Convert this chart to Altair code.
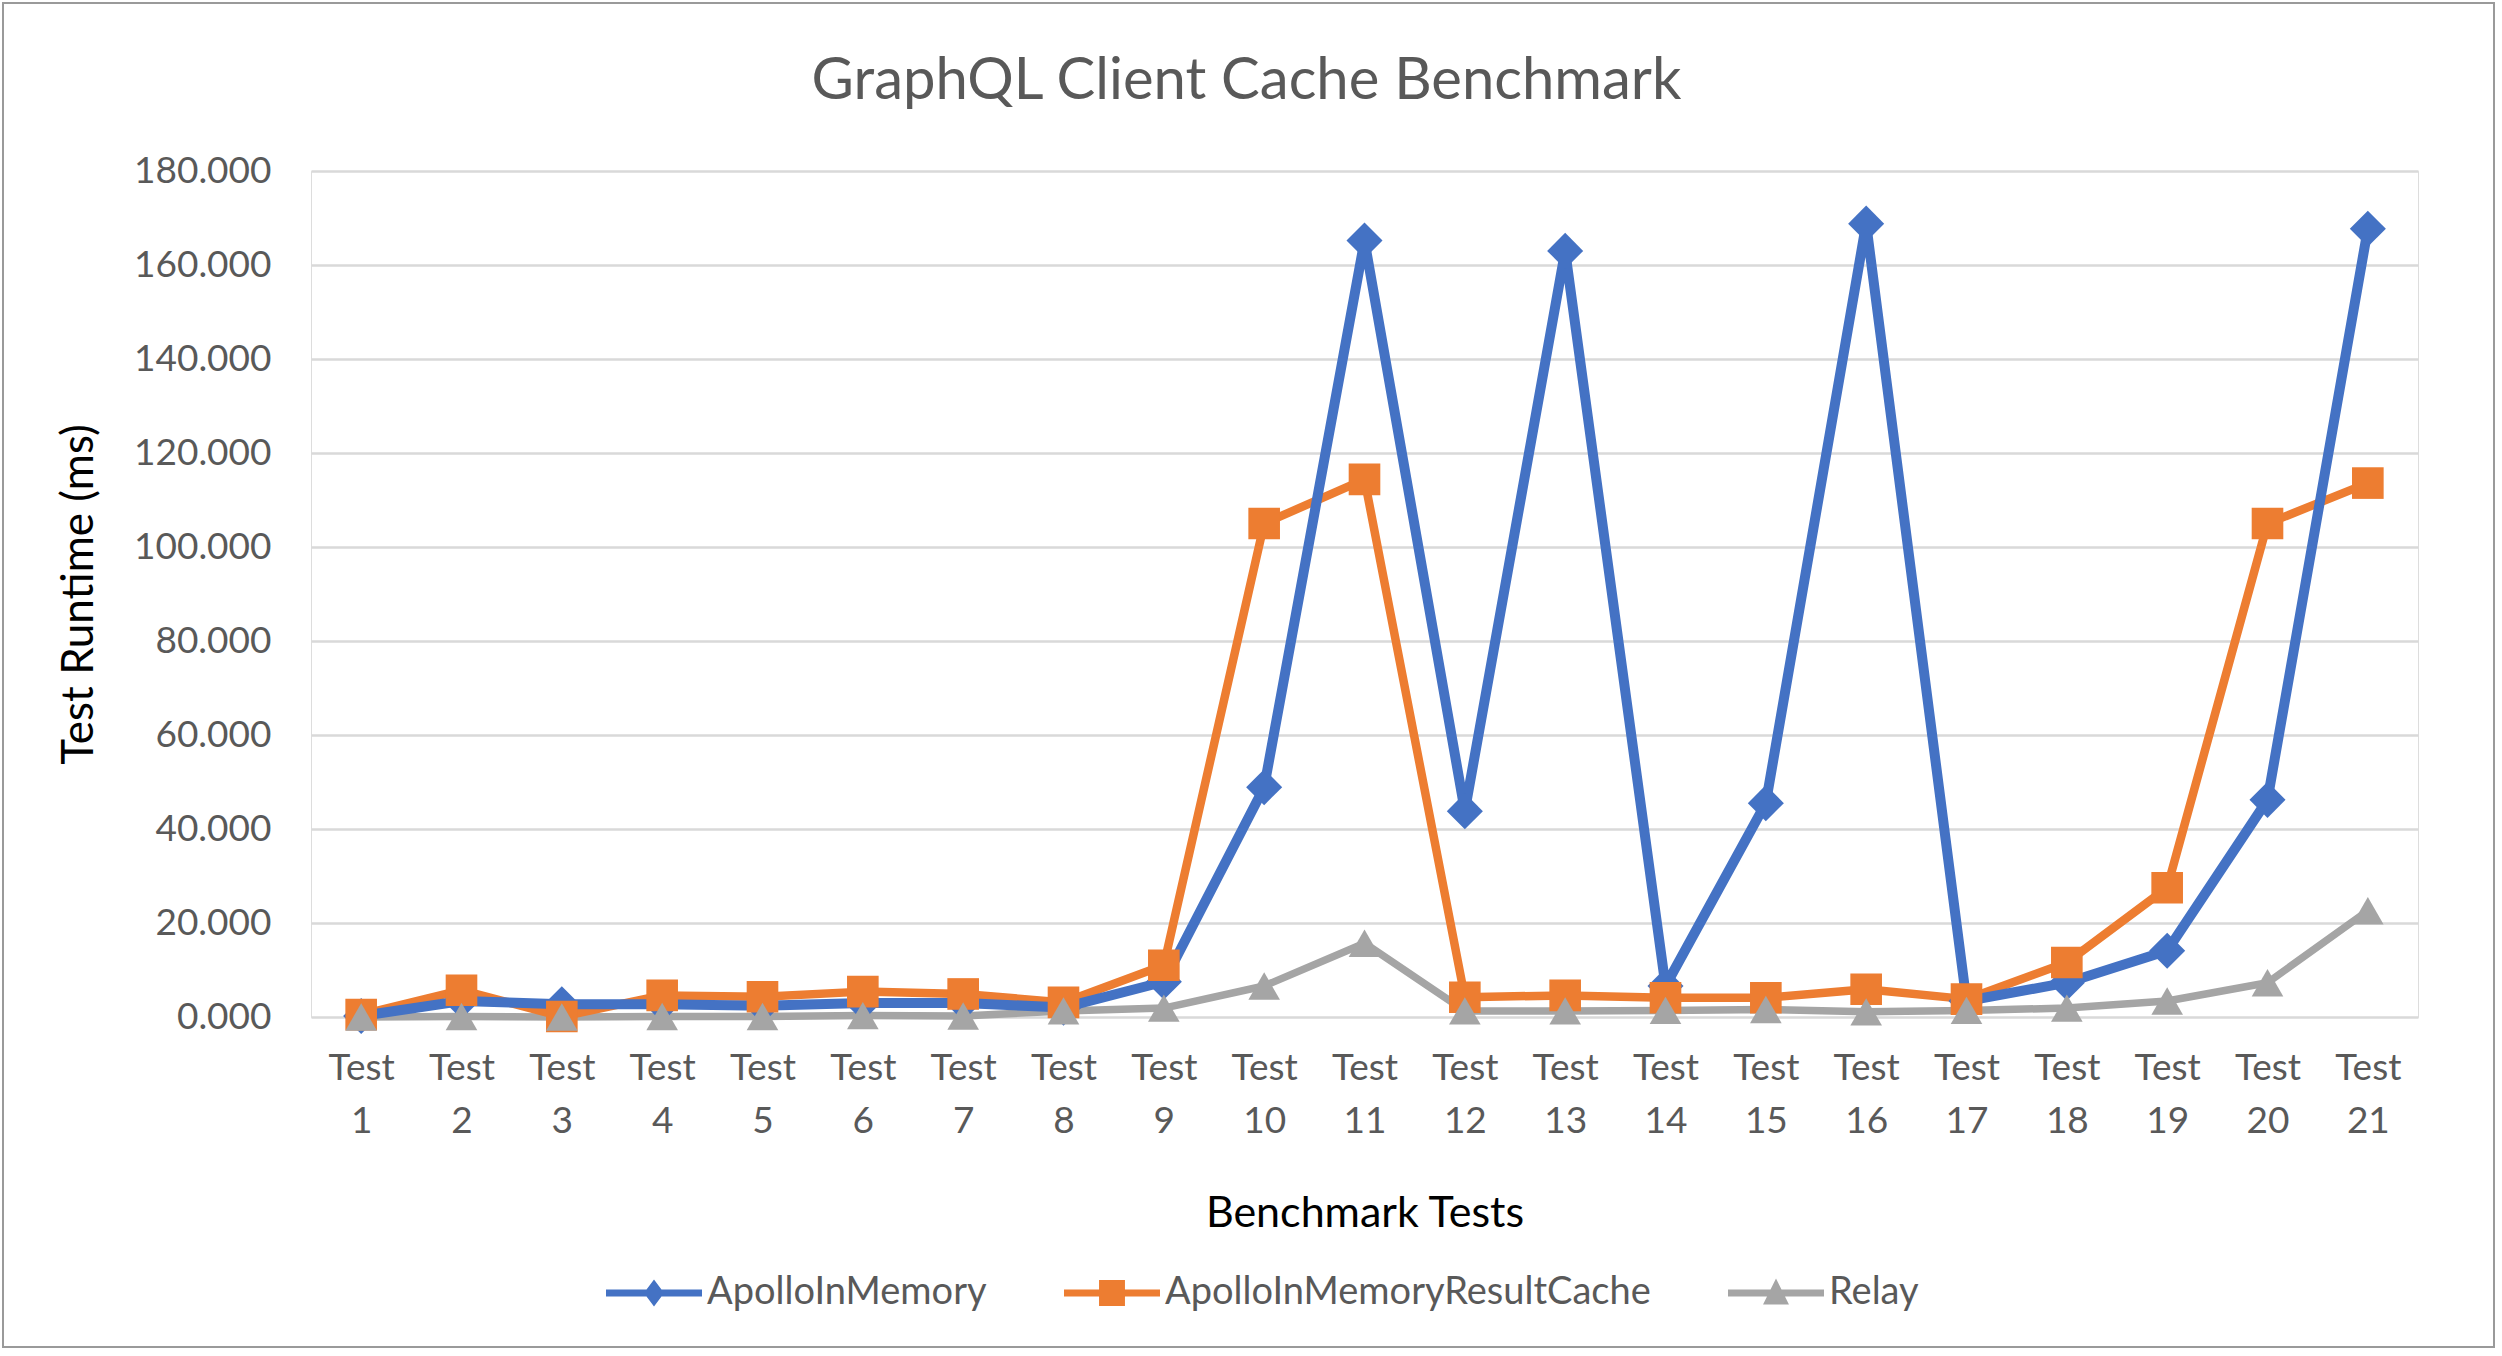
import altair as alt
import pandas as pd

tests = [f"Test {i}" for i in range(1, 22)]
series = ["ApolloInMemory", "ApolloInMemoryResultCache", "Relay"]
colors = ["#4472C4", "#ED7D31", "#A5A5A5"]

apollo_in_memory = [0.2, 3.4, 2.7, 2.7, 2.4, 3.0, 3.0, 2.0, 7.5, 48.9, 165.2,
                    43.8, 163.0, 6.6, 45.5, 168.8, 3.4, 7.3, 14.1, 46.2, 167.7]
apollo_result_cache = [0.5, 5.7, 0.1, 4.6, 4.3, 5.4, 4.9, 3.1, 11.0, 105.0, 114.4,
                       4.2, 4.6, 4.1, 4.1, 5.9, 3.8, 11.6, 27.5, 105.0, 113.6]
relay = [0.0, 0.1, 0.0, 0.1, 0.1, 0.3, 0.2, 1.3, 1.9, 6.6, 15.7,
         1.3, 1.3, 1.4, 1.6, 1.1, 1.4, 1.9, 3.4, 7.3, 22.6]

y_ticks = list(range(0, 181, 20))

rows = []
for name, vals in zip(series, [apollo_in_memory, apollo_result_cache, relay]):
    for t, v in zip(tests, vals):
        rows.append({"test": t, "series": name, "value": v})
df = pd.DataFrame(rows)

FONT = "Lato"
W, H = 2107, 846

color_scale = alt.Scale(domain=series, range=colors)
x_enc = alt.X("test:N", sort=tests,
              scale=alt.Scale(type="point", padding=0.5),
              axis=alt.Axis(labelExpr="split(datum.value, ' ')", labelAngle=0,
                            labelFont=FONT, labelFontSize=37, labelColor="#595959",
                            labelLineHeight=53, labelPadding=33, ticks=False, tickSize=0,
                            domain=False, grid=False,
                            title="Benchmark Tests", titleFont=FONT, titleFontSize=43,
                            titleFontWeight="normal", titleColor="#000000",
                            titleBaseline="middle", titleY=196))
y_enc = alt.Y("value:Q", scale=alt.Scale(domain=[0, 180], nice=False, zero=True),
              axis=alt.Axis(values=y_ticks, format=".3f", labelFont=FONT,
                            labelFontSize=37, labelColor="#595959", labelPadding=40,
                            domain=False, ticks=False, tickSize=0, grid=True,
                            gridColor="#D9D9D9", gridWidth=2.5,
                            title="Test Runtime (ms)", titleFont=FONT, titleFontSize=44,
                            titleFontWeight="normal", titleColor="#000000",
                            titleBaseline="middle", titleX=-232, titleY=H / 2))

base = alt.Chart(df)

stroke_w = {"ApolloInMemory": 10, "ApolloInMemoryResultCache": 8.5, "Relay": 7.5}
shapes = {"ApolloInMemory": ("diamond", 1300), "ApolloInMemoryResultCache": ("square", 1000),
          "Relay": ("triangle-up", 1000)}

line_layers = []
for name in ["Relay", "ApolloInMemoryResultCache", "ApolloInMemory"]:
    line_layers.append(
        base.transform_filter(alt.datum.series == name)
        .mark_line(strokeWidth=stroke_w[name], strokeJoin="round")
        .encode(x=x_enc, y=y_enc, color=alt.Color("series:N", scale=color_scale, legend=None))
    )

point_layers = []
for name in series:
    shp, sz = shapes[name]
    point_layers.append(
        base.transform_filter(alt.datum.series == name)
        .mark_point(shape=shp, size=sz, filled=True, opacity=1)
        .encode(x=x_enc, y=y_enc, color=alt.Color("series:N", scale=color_scale, legend=None))
    )

legend_paths = [
    "M-1,-0.075H1V0.075H-1Z M0,-0.28L0.21,0L0,0.28L-0.21,0Z",
    "M-1,-0.075H1V0.075H-1Z M-0.27,-0.27H0.27V0.27H-0.27Z",
    "M-1,-0.075H1V0.075H-1Z M0,-0.3L0.27,0.24H-0.27Z",
]
leg = alt.Legend(orient="none", legendX=295, legendY=1074, direction="horizontal",
                 title=None, labelFont=FONT, labelFontSize=38, labelColor="#595959",
                 labelLimit=0, symbolSize=9216, symbolStrokeWidth=0, columnPadding=77,
                 labelOffset=5, padding=0)
legend_layer = (
    base.transform_filter("false")
    .mark_point(filled=True, size=9216, opacity=1)
    .encode(x=x_enc, y=y_enc,
            color=alt.Color("series:N", scale=color_scale, legend=leg),
            shape=alt.Shape("series:N", scale=alt.Scale(domain=series, range=legend_paths),
                            legend=leg))
)

border = alt.Chart(alt.Data(values=[{"a": 1}])).mark_rect(
    fill="#ffffff", fillOpacity=0, stroke="#9a9a9a", strokeWidth=2
).encode(x=alt.value(-308), x2=alt.value(2183), y=alt.value(-168), y2=alt.value(1176))

chart = alt.layer(border, *line_layers, *point_layers, legend_layer).resolve_legend(
    color="independent", shape="independent"
).properties(
    width=W, height=H,
    title=alt.TitleParams("GraphQL Client Cache Benchmark", font=FONT, fontSize=58,
                          fontWeight="normal", color="#595959", anchor="middle",
                          dx=-118, dy=227, offset=72, baseline="alphabetic"),
    autosize=alt.AutoSizeParams(type="none"),
    padding={"left": 311, "top": 171, "right": 84, "bottom": 339},
).configure_view(stroke=None).configure(background="#ffffff")

chart.save("out.html", embed_options={"renderer": "svg", "actions": False})
